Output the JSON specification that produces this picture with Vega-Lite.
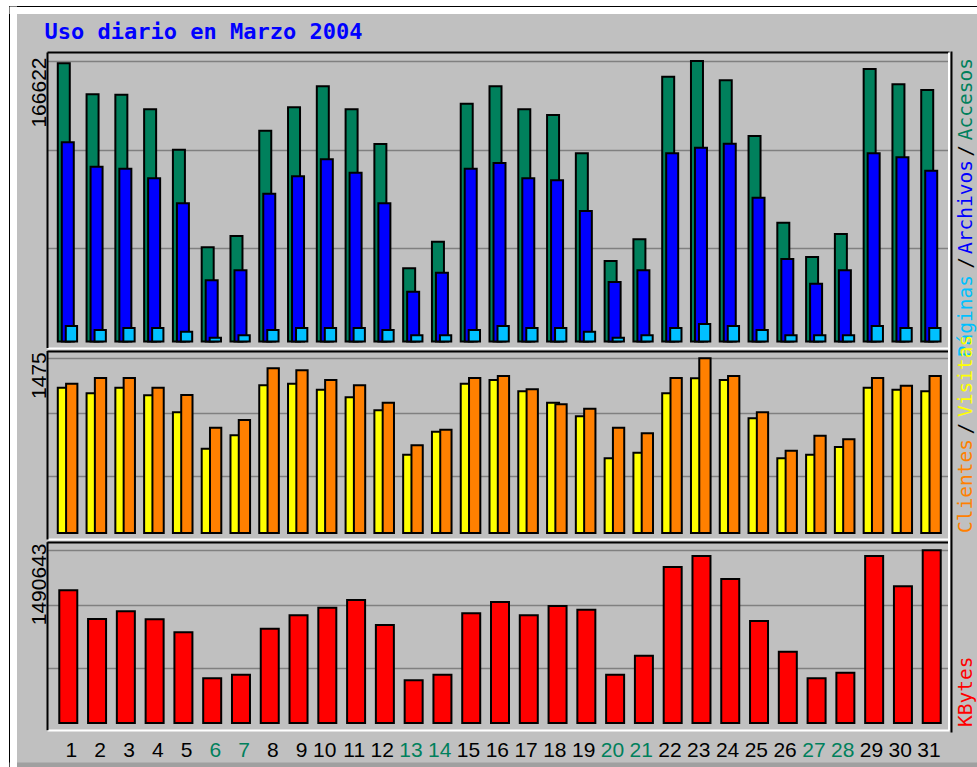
{
  "$schema": "https://vega.github.io/schema/vega-lite/v6.json",
  "width": 968,
  "height": 761,
  "autosize": {"type": "none"},
  "padding": {"left": 9, "top": 6, "right": 0, "bottom": 0},
  "background": "#ffffff",
  "config": {"view": {"fill": "#c0c0c0", "stroke": "#000000", "strokeWidth": 1}},
  "title": {"text": "Uso diario en Marzo 2004", "anchor": "start", "frame": "group", "orient": "top", "offset": -54.5, "dx": 35.5, "baseline": "alphabetic", "color": "#0000ff", "font": "DejaVu Sans Mono", "fontSize": 22, "fontWeight": "bold"},
  "datasets": {
    "days": [
      {"day": 1, "accesos": 165251, "archivos": 118325, "paginas": 9207, "visitas": 1227, "clientes": 1261, "kbytes": 1145387},
      {"day": 2, "accesos": 146837, "archivos": 103831, "paginas": 6831, "visitas": 1180, "clientes": 1309, "kbytes": 897666},
      {"day": 3, "accesos": 146600, "archivos": 102643, "paginas": 8019, "visitas": 1227, "clientes": 1309, "kbytes": 964127},
      {"day": 4, "accesos": 137927, "archivos": 96941, "paginas": 8019, "visitas": 1163, "clientes": 1227, "kbytes": 896500},
      {"day": 5, "accesos": 113929, "archivos": 82091, "paginas": 5821, "visitas": 1019, "clientes": 1165, "kbytes": 782868},
      {"day": 6, "accesos": 55955, "archivos": 36353, "paginas": 2257, "visitas": 712, "clientes": 889, "kbytes": 385824},
      {"day": 7, "accesos": 62667, "archivos": 42293, "paginas": 3683, "visitas": 825, "clientes": 954, "kbytes": 416897},
      {"day": 8, "accesos": 125215, "archivos": 87793, "paginas": 6831, "visitas": 1247, "clientes": 1391, "kbytes": 813941},
      {"day": 9, "accesos": 139115, "archivos": 98129, "paginas": 8019, "visitas": 1261, "clientes": 1374, "kbytes": 929602},
      {"day": 10, "accesos": 151589, "archivos": 108227, "paginas": 8019, "visitas": 1210, "clientes": 1292, "kbytes": 995200},
      {"day": 11, "accesos": 137927, "archivos": 100267, "paginas": 8019, "visitas": 1146, "clientes": 1247, "kbytes": 1061662},
      {"day": 12, "accesos": 117315, "archivos": 82091, "paginas": 6831, "visitas": 1036, "clientes": 1100, "kbytes": 845877},
      {"day": 13, "accesos": 43481, "archivos": 29581, "paginas": 3683, "visitas": 661, "clientes": 741, "kbytes": 368561},
      {"day": 14, "accesos": 59281, "archivos": 40867, "paginas": 3683, "visitas": 855, "clientes": 872, "kbytes": 416897},
      {"day": 15, "accesos": 141253, "archivos": 102643, "paginas": 6831, "visitas": 1261, "clientes": 1309, "kbytes": 946865},
      {"day": 16, "accesos": 151589, "archivos": 106029, "paginas": 9207, "visitas": 1292, "clientes": 1326, "kbytes": 1044399},
      {"day": 17, "accesos": 137927, "archivos": 96941, "paginas": 8019, "visitas": 1196, "clientes": 1213, "kbytes": 929602},
      {"day": 18, "accesos": 134541, "archivos": 95753, "paginas": 8019, "visitas": 1100, "clientes": 1087, "kbytes": 1009874},
      {"day": 19, "accesos": 111791, "archivos": 77517, "paginas": 5821, "visitas": 985, "clientes": 1050, "kbytes": 977938},
      {"day": 20, "accesos": 47817, "archivos": 35343, "paginas": 2257, "visitas": 631, "clientes": 889, "kbytes": 416897},
      {"day": 21, "accesos": 60707, "archivos": 42293, "paginas": 3683, "visitas": 678, "clientes": 842, "kbytes": 580893},
      {"day": 22, "accesos": 157291, "archivos": 111791, "paginas": 8019, "visitas": 1180, "clientes": 1309, "kbytes": 1346498},
      {"day": 23, "accesos": 166622, "archivos": 115117, "paginas": 10395, "visitas": 1306, "clientes": 1475, "kbytes": 1441444},
      {"day": 24, "accesos": 155153, "archivos": 117493, "paginas": 9207, "visitas": 1292, "clientes": 1326, "kbytes": 1242922},
      {"day": 25, "accesos": 122067, "archivos": 85417, "paginas": 6831, "visitas": 968, "clientes": 1019, "kbytes": 880403},
      {"day": 26, "accesos": 70567, "archivos": 49005, "paginas": 3683, "visitas": 631, "clientes": 695, "kbytes": 615419},
      {"day": 27, "accesos": 50193, "archivos": 34333, "paginas": 3683, "visitas": 661, "clientes": 822, "kbytes": 385824},
      {"day": 28, "accesos": 63855, "archivos": 42293, "paginas": 3683, "visitas": 726, "clientes": 791, "kbytes": 434159},
      {"day": 29, "accesos": 161865, "archivos": 111791, "paginas": 9207, "visitas": 1227, "clientes": 1309, "kbytes": 1441444},
      {"day": 30, "accesos": 152777, "archivos": 109415, "paginas": 8019, "visitas": 1210, "clientes": 1244, "kbytes": 1179912},
      {"day": 31, "accesos": 149391, "archivos": 101455, "paginas": 8019, "visitas": 1196, "clientes": 1326, "kbytes": 1490643}
    ]
  },
  "layer": [
    {
      "data": {"values": [{}]},
      "mark": {"type": "point", "opacity": 0},
      "encoding": {
        "x": {"datum": 0, "type": "quantitative", "scale": {"domain": [0, 1], "nice": false, "zero": false}, "axis": {"orient": "top", "offset": -4, "title": null, "labels": false, "ticks": false, "grid": false, "domain": true, "domainColor": "#ffffff", "domainWidth": 7}},
        "y": {"datum": 0, "type": "quantitative", "scale": {"domain": [0, 1], "nice": false, "zero": false}, "axis": {"orient": "left", "offset": -4, "title": null, "labels": false, "ticks": false, "grid": false, "domain": true, "domainColor": "#ffffff", "domainWidth": 7}}
      }
    },
    {
      "data": {"values": [{}]},
      "mark": {"type": "point", "opacity": 0},
      "encoding": {
        "x": {"datum": 0, "type": "quantitative", "scale": {"domain": [0, 1], "nice": false, "zero": false}, "axis": {"orient": "bottom", "offset": -2.5, "title": null, "labels": false, "ticks": false, "grid": false, "domain": true, "domainColor": "#a0a0a0", "domainWidth": 5}},
        "y": {"datum": 0, "type": "quantitative", "scale": {"domain": [0, 1], "range": [726, 45], "nice": false, "zero": false}, "axis": {"orient": "right", "offset": -26, "title": null, "labels": false, "ticks": false, "grid": false, "domain": true, "domainColor": "#000000", "domainWidth": 2}}
      }
    },
    {
      "data": {"values": [{}]},
      "mark": {"type": "point", "opacity": 0},
      "encoding": {
        "y": {"datum": 0, "type": "quantitative", "scale": {"domain": [0, 1], "range": [723.7, 46], "nice": false, "zero": false}, "axis": {"orient": "right", "offset": -28.5, "title": null, "labels": false, "ticks": false, "grid": false, "domain": true, "domainColor": "#ffffff", "domainWidth": 2}}
      }
    },
    {
      "data": {"name": "days"},
      "mark": {"type": "bar", "fill": "#00805c", "stroke": "#000000", "strokeWidth": 2, "width": 12, "xOffset": -7.39},
      "encoding": {
        "x": {"field": "day", "type": "ordinal",
          "scale": {"type": "band", "domain": [1,2,3,4,5,6,7,8,9,10,11,12,13,14,15,16,17,18,19,20,21,22,23,24,25,26,27,28,29,30,31], "range": [38, 940], "paddingInner": 0, "paddingOuter": 0.17, "align": 1},
          "axis": {"orient": "bottom", "offset": -10.3, "title": null, "domain": false, "ticks": false, "tickSize": 0, "grid": false, "labelAngle": 0, "labelAlign": "right", "labelBaseline": "alphabetic", "labelPadding": 0, "labelOffset": 6.1, "labelFont": "Liberation Sans", "labelFontSize": 21, "labelColor": {"condition": {"test": "indexof([6,7,13,14,20,21,27,28], datum.value) >= 0", "value": "#00805c"}, "value": "#000000"}, "labelOverlap": false, "labelBound": false, "labelFlush": false}},
        "y": {"field": "accesos", "type": "quantitative",
          "scale": {"domain": [-3564, 171966], "range": [341.5, 46], "nice": false, "zero": false},
          "axis": {"orient": "left", "offset": -38, "title": null, "values": [-3564, 55718, 113574, 166622, 171966], "labelExpr": "datum.value == 166622 ? '166622' : ''", "grid": true, "gridColor": {"condition": [{"test": "datum.value < 0", "value": "#ffffff"}, {"test": "datum.value > 170000", "value": "#000000"}], "value": "#808080"}, "gridWidth": {"condition": {"test": "datum.value < 0 || datum.value > 170000", "value": 2}, "value": 1.5}, "ticks": false, "tickSize": 0, "domain": true, "domainColor": "#000000", "domainWidth": 2, "labelAngle": 270, "labelAlign": "right", "labelBaseline": "alphabetic", "labelPadding": 2, "labelOffset": -4, "labelFont": "Liberation Sans", "labelFontSize": 21, "labelColor": "#000000", "labelOverlap": false, "labelBound": false, "labelFlush": false}}
      }
    },
    {
      "data": {"name": "days"},
      "mark": {"type": "bar", "fill": "#0000ff", "stroke": "#000000", "strokeWidth": 2, "width": 12, "xOffset": -3.39},
      "encoding": {
        "x": {"field": "day", "type": "ordinal", "scale": {"type": "band", "domain": [1,2,3,4,5,6,7,8,9,10,11,12,13,14,15,16,17,18,19,20,21,22,23,24,25,26,27,28,29,30,31], "range": [38, 940], "paddingInner": 0, "paddingOuter": 0.17, "align": 1}, "axis": null},
        "y": {"field": "archivos", "type": "quantitative", "scale": {"domain": [-3564, 171966], "range": [341.5, 46], "nice": false, "zero": false}, "axis": null}
      }
    },
    {
      "data": {"name": "days"},
      "mark": {"type": "bar", "fill": "#00c0ff", "stroke": "#000000", "strokeWidth": 2, "width": 11.3, "xOffset": 0.26},
      "encoding": {
        "x": {"field": "day", "type": "ordinal", "scale": {"type": "band", "domain": [1,2,3,4,5,6,7,8,9,10,11,12,13,14,15,16,17,18,19,20,21,22,23,24,25,26,27,28,29,30,31], "range": [38, 940], "paddingInner": 0, "paddingOuter": 0.17, "align": 1}, "axis": null},
        "y": {"field": "paginas", "type": "quantitative", "scale": {"domain": [-3564, 171966], "range": [341.5, 46], "nice": false, "zero": false}, "axis": null}
      }
    },
    {
      "data": {"name": "days"},
      "mark": {"type": "bar", "fill": "#ffff00", "stroke": "#000000", "strokeWidth": 2, "width": 12, "xOffset": -7.39},
      "encoding": {
        "x": {"field": "day", "type": "ordinal", "scale": {"type": "band", "domain": [1,2,3,4,5,6,7,8,9,10,11,12,13,14,15,16,17,18,19,20,21,22,23,24,25,26,27,28,29,30,31], "range": [38, 940], "paddingInner": 0, "paddingOuter": 0.17, "align": 1}, "axis": null},
        "y": {"field": "visitas", "type": "quantitative",
          "scale": {"domain": [-50.66, 1540.87], "range": [533, 344.5], "nice": false, "zero": false},
          "axis": {"orient": "left", "offset": -38, "title": null, "values": [-50.66, 481.26, 1013.2, 1475, 1540.87], "labelExpr": "datum.value == 1475 ? '1475' : ''", "grid": true, "gridColor": {"condition": [{"test": "datum.value < 0", "value": "#ffffff"}, {"test": "datum.value > 1500", "value": "#000000"}], "value": "#808080"}, "gridWidth": {"condition": {"test": "datum.value < 0 || datum.value > 1500", "value": 2}, "value": 1.5}, "ticks": false, "tickSize": 0, "domain": true, "domainColor": "#000000", "domainWidth": 2, "labelAngle": 270, "labelAlign": "right", "labelBaseline": "alphabetic", "labelPadding": 2, "labelOffset": -6.6, "labelFont": "Liberation Sans", "labelFontSize": 21, "labelColor": "#000000", "labelOverlap": false, "labelBound": false, "labelFlush": false}}
      }
    },
    {
      "data": {"name": "days"},
      "mark": {"type": "bar", "fill": "#ff8000", "stroke": "#000000", "strokeWidth": 2, "width": 11.3, "xOffset": 0.56},
      "encoding": {
        "x": {"field": "day", "type": "ordinal", "scale": {"type": "band", "domain": [1,2,3,4,5,6,7,8,9,10,11,12,13,14,15,16,17,18,19,20,21,22,23,24,25,26,27,28,29,30,31], "range": [38, 940], "paddingInner": 0, "paddingOuter": 0.17, "align": 1}, "axis": null},
        "y": {"field": "clientes", "type": "quantitative", "scale": {"domain": [-50.66, 1540.87], "range": [533, 344.5], "nice": false, "zero": false}, "axis": null}
      }
    },
    {
      "data": {"name": "days"},
      "mark": {"type": "bar", "fill": "#ff0000", "stroke": "#000000", "strokeWidth": 2, "width": 18, "xOffset": -2.89},
      "encoding": {
        "x": {"field": "day", "type": "ordinal", "scale": {"type": "band", "domain": [1,2,3,4,5,6,7,8,9,10,11,12,13,14,15,16,17,18,19,20,21,22,23,24,25,26,27,28,29,30,31], "range": [38, 940], "paddingInner": 0, "paddingOuter": 0.17, "align": 1}, "axis": null},
        "y": {"field": "kbytes", "type": "quantitative",
          "scale": {"domain": [-57830, 1564873], "range": [723.7, 535.7], "nice": false, "zero": false},
          "axis": {"orient": "left", "offset": -38, "title": null, "values": [-57830, 472138, 1018505, 1490643, 1564873], "labelExpr": "datum.value == 1490643 ? '1490643' : ''", "grid": true, "gridColor": {"condition": [{"test": "datum.value < 0", "value": "#ffffff"}, {"test": "datum.value > 1500000", "value": "#000000"}], "value": "#808080"}, "gridWidth": {"condition": {"test": "datum.value < 0 || datum.value > 1500000", "value": 2}, "value": 1.5}, "ticks": false, "tickSize": 0, "domain": true, "domainColor": "#000000", "domainWidth": 2, "labelAngle": 270, "labelAlign": "right", "labelBaseline": "alphabetic", "labelPadding": 2, "labelOffset": -7.3, "labelFont": "Liberation Sans", "labelFontSize": 21, "labelColor": "#000000", "labelOverlap": false, "labelBound": false, "labelFlush": false}}
      }
    },
    {
      "data": {"values": [{}]},
      "mark": {"type": "text", "text": "Accesos", "angle": 270, "align": "right", "baseline": "alphabetic", "dy": 37, "font": "DejaVu Sans Mono", "fontSize": 19.5, "fill": "#00805c"},
      "encoding": {
        "x": {"datum": 31, "type": "ordinal", "scale": {"type": "band", "domain": [1,2,3,4,5,6,7,8,9,10,11,12,13,14,15,16,17,18,19,20,21,22,23,24,25,26,27,28,29,30,31], "range": [38, 940], "paddingInner": 0, "paddingOuter": 0.17, "align": 1}, "axis": null},
        "y": {"datum": 168402, "type": "quantitative", "scale": {"domain": [-3564, 171966], "range": [341.5, 46], "nice": false, "zero": false}, "axis": null}
      }
    },
    {
      "data": {"values": [{}]},
      "mark": {"type": "text", "text": "/", "angle": 270, "align": "right", "baseline": "alphabetic", "dy": 37, "font": "DejaVu Sans Mono", "fontSize": 19.5, "fill": "#000000"},
      "encoding": {
        "x": {"datum": 31, "type": "ordinal", "scale": {"type": "band", "domain": [1,2,3,4,5,6,7,8,9,10,11,12,13,14,15,16,17,18,19,20,21,22,23,24,25,26,27,28,29,30,31], "range": [38, 940], "paddingInner": 0, "paddingOuter": 0.17, "align": 1}, "axis": null},
        "y": {"datum": 116723, "type": "quantitative", "scale": {"domain": [-3564, 171966], "range": [341.5, 46], "nice": false, "zero": false}, "axis": null}
      }
    },
    {
      "data": {"values": [{}]},
      "mark": {"type": "text", "text": "Archivos", "angle": 270, "align": "right", "baseline": "alphabetic", "dy": 37, "font": "DejaVu Sans Mono", "fontSize": 19.5, "fill": "#0000ff"},
      "encoding": {
        "x": {"datum": 31, "type": "ordinal", "scale": {"type": "band", "domain": [1,2,3,4,5,6,7,8,9,10,11,12,13,14,15,16,17,18,19,20,21,22,23,24,25,26,27,28,29,30,31], "range": [38, 940], "paddingInner": 0, "paddingOuter": 0.17, "align": 1}, "axis": null},
        "y": {"datum": 107813, "type": "quantitative", "scale": {"domain": [-3564, 171966], "range": [341.5, 46], "nice": false, "zero": false}, "axis": null}
      }
    },
    {
      "data": {"values": [{}]},
      "mark": {"type": "text", "text": "/", "angle": 270, "align": "right", "baseline": "alphabetic", "dy": 37, "font": "DejaVu Sans Mono", "fontSize": 19.5, "fill": "#000000"},
      "encoding": {
        "x": {"datum": 31, "type": "ordinal", "scale": {"type": "band", "domain": [1,2,3,4,5,6,7,8,9,10,11,12,13,14,15,16,17,18,19,20,21,22,23,24,25,26,27,28,29,30,31], "range": [38, 940], "paddingInner": 0, "paddingOuter": 0.17, "align": 1}, "axis": null},
        "y": {"datum": 50194, "type": "quantitative", "scale": {"domain": [-3564, 171966], "range": [341.5, 46], "nice": false, "zero": false}, "axis": null}
      }
    },
    {
      "data": {"values": [{}]},
      "mark": {"type": "text", "text": "Páginas", "angle": 270, "align": "right", "baseline": "alphabetic", "dy": 37, "font": "DejaVu Sans Mono", "fontSize": 19.5, "fill": "#00c0ff"},
      "encoding": {
        "x": {"datum": 31, "type": "ordinal", "scale": {"type": "band", "domain": [1,2,3,4,5,6,7,8,9,10,11,12,13,14,15,16,17,18,19,20,21,22,23,24,25,26,27,28,29,30,31], "range": [38, 940], "paddingInner": 0, "paddingOuter": 0.17, "align": 1}, "axis": null},
        "y": {"datum": 39502, "type": "quantitative", "scale": {"domain": [-3564, 171966], "range": [341.5, 46], "nice": false, "zero": false}, "axis": null}
      }
    },
    {
      "data": {"values": [{}]},
      "mark": {"type": "text", "text": "Clientes", "angle": 270, "align": "left", "baseline": "alphabetic", "dy": 37, "font": "DejaVu Sans Mono", "fontSize": 19.5, "fill": "#ff8000"},
      "encoding": {
        "x": {"datum": 31, "type": "ordinal", "scale": {"type": "band", "domain": [1,2,3,4,5,6,7,8,9,10,11,12,13,14,15,16,17,18,19,20,21,22,23,24,25,26,27,28,29,30,31], "range": [38, 940], "paddingInner": 0, "paddingOuter": 0.17, "align": 1}, "axis": null},
        "y": {"datum": 0, "type": "quantitative", "scale": {"domain": [-50.66, 1540.87], "range": [533, 344.5], "nice": false, "zero": false}, "axis": null}
      }
    },
    {
      "data": {"values": [{}]},
      "mark": {"type": "text", "text": "/", "angle": 270, "align": "left", "baseline": "alphabetic", "dy": 37, "font": "DejaVu Sans Mono", "fontSize": 19.5, "fill": "#000000"},
      "encoding": {
        "x": {"datum": 31, "type": "ordinal", "scale": {"type": "band", "domain": [1,2,3,4,5,6,7,8,9,10,11,12,13,14,15,16,17,18,19,20,21,22,23,24,25,26,27,28,29,30,31], "range": [38, 940], "paddingInner": 0, "paddingOuter": 0.17, "align": 1}, "axis": null},
        "y": {"datum": 832.5, "type": "quantitative", "scale": {"domain": [-50.66, 1540.87], "range": [533, 344.5], "nice": false, "zero": false}, "axis": null}
      }
    },
    {
      "data": {"values": [{}]},
      "mark": {"type": "text", "text": "Visitas", "angle": 270, "align": "left", "baseline": "alphabetic", "dy": 37, "font": "DejaVu Sans Mono", "fontSize": 19.5, "fill": "#ffff00"},
      "encoding": {
        "x": {"datum": 31, "type": "ordinal", "scale": {"type": "band", "domain": [1,2,3,4,5,6,7,8,9,10,11,12,13,14,15,16,17,18,19,20,21,22,23,24,25,26,27,28,29,30,31], "range": [38, 940], "paddingInner": 0, "paddingOuter": 0.17, "align": 1}, "axis": null},
        "y": {"datum": 979.4, "type": "quantitative", "scale": {"domain": [-50.66, 1540.87], "range": [533, 344.5], "nice": false, "zero": false}, "axis": null}
      }
    },
    {
      "data": {"values": [{}]},
      "mark": {"type": "text", "text": "KBytes", "angle": 270, "align": "left", "baseline": "alphabetic", "dy": 37, "font": "DejaVu Sans Mono", "fontSize": 19.5, "fill": "#ff0000"},
      "encoding": {
        "x": {"datum": 31, "type": "ordinal", "scale": {"type": "band", "domain": [1,2,3,4,5,6,7,8,9,10,11,12,13,14,15,16,17,18,19,20,21,22,23,24,25,26,27,28,29,30,31], "range": [38, 940], "paddingInner": 0, "paddingOuter": 0.17, "align": 1}, "axis": null},
        "y": {"datum": -34526, "type": "quantitative", "scale": {"domain": [-57830, 1564873], "range": [723.7, 535.7], "nice": false, "zero": false}, "axis": null}
      }
    }
  ],
  "resolve": {"scale": {"x": "independent", "y": "independent"}, "axis": {"x": "independent", "y": "independent"}}
}
